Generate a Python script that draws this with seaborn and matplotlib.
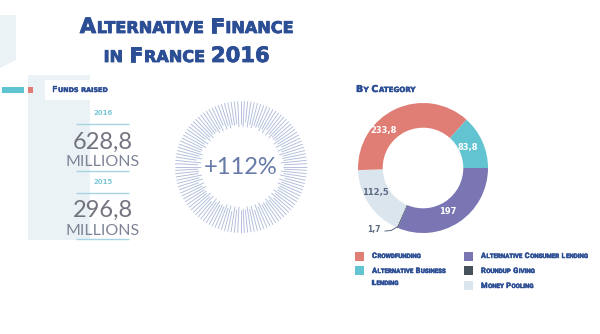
import numpy as np
import matplotlib
matplotlib.use("Agg")
import matplotlib.pyplot as plt
import matplotlib.patheffects as pe
import seaborn as sns
from matplotlib.collections import LineCollection
from matplotlib.patches import Rectangle, Polygon

# ---------------- data ----------------
categories = ["Alternative Consumer Lending", "Roundup Giving", "Money Pooling",
              "Crowdfunding", "Alternative Business Lending"]
values = [197, 1.7, 112.5, 233.8, 83.8]
years = ["2016", "2015"]
funds = ["628,8", "296,8"]
growth_label = "+112%"
legend_order = ["Crowdfunding", "Alternative Consumer Lending",
                "Alternative Business Lending", "Roundup Giving", "Money Pooling"]

sns.set_theme(style="white")
plt.rcParams["font.family"] = ["DejaVu Sans"]

palette = {
    "Crowdfunding": "#E07E76",
    "Alternative Business Lending": "#62C4D1",
    "Alternative Consumer Lending": "#7A76B4",
    "Roundup Giving": "#47515A",
    "Money Pooling": "#DBE5ED",
}
NAVY = "#2C4E94"
LIGHT = "#EAF2F5"

fig = plt.figure(figsize=(6, 3.34), dpi=100)
ax = fig.add_axes([0, 0, 1, 1])
ax.set_xlim(0, 600)
ax.set_ylim(334, 0)
ax.axis("off")
renderer = fig.canvas.get_renderer()


def smallcaps(x, y, s, big, small, ha="left", color=NAVY, weight="bold",
              family=("DejaVu Sans",), stroke=0.0):
    groups = []
    for ch in s:
        if ch == " ":
            groups.append((" ", None))
            continue
        size = big if (ch.isupper() or ch.isdigit()) else small
        if groups and groups[-1][1] == size:
            groups[-1] = (groups[-1][0] + ch.upper(), size)
        else:
            groups.append((ch.upper(), size))
    texts = []
    widths = []
    for g, size in groups:
        if size is None:
            texts.append(None)
            widths.append(small * 100 / 72 * 0.32)
            continue
        t = ax.text(0, y, g, fontsize=size, color=color, fontweight=weight,
                    family=list(family), va="baseline", ha="left")
        if stroke > 0:
            t.set_path_effects([pe.withStroke(linewidth=stroke, foreground=color)])
        w = t.get_window_extent(renderer).width
        texts.append(t)
        widths.append(w + 0.3 + stroke * 0.5)
    total = sum(widths)
    cx = x - total / 2 if ha == "center" else x
    for t, w in zip(texts, widths):
        if t is not None:
            t.set_x(cx)
        cx += w


# ---------------- background decorations ----------------
ax.add_patch(Polygon([(0, 15), (16, 15), (16, 60), (0, 68)], closed=True,
                     facecolor=LIGHT, edgecolor="none"))
ax.add_patch(Rectangle((28, 75), 62, 165, facecolor=LIGHT, edgecolor="none"))
ax.add_patch(Rectangle((45, 80), 75, 20, facecolor="white", edgecolor="none"))
ax.add_patch(Rectangle((2, 87), 22, 6, facecolor="#5EC4D2", edgecolor="none"))
ax.add_patch(Rectangle((28, 87), 5, 6, facecolor="#E07A72", edgecolor="none"))

# ---------------- title ----------------
smallcaps(187, 33, "Alternative Finance", 15.2, 11.6, ha="center", stroke=0.6)
smallcaps(187, 62, "in France 2016", 15.2, 11.6, ha="center", stroke=0.6)

# ---------------- funds raised panel ----------------
smallcaps(52, 92, "Funds raised", 6, 4.6, stroke=0.3)
year_y = [115, 184]
num_y = [149, 217]
mil_y = [166, 235]
line_y = [(124, 171), (193, 239)]
for yr, fv, yy, ny, my, (l1, l2) in zip(years, funds, year_y, num_y, mil_y, line_y):
    ax.text(103, yy, yr, fontsize=5, fontweight="bold", color="#7CC7D8",
            ha="center", va="baseline")
    ax.plot([76, 129], [l1, l1], color="#A6D4E2", lw=1.0, solid_capstyle="butt")
    ax.plot([76, 129], [l2, l2], color="#A6D4E2", lw=1.0, solid_capstyle="butt")
    ax.text(103, ny, fv, fontsize=17, fontweight="normal", family=["Lato", "DejaVu Sans"],
            color="#73737F", ha="center", va="baseline")
    ax.text(103, my, "MILLIONS", fontsize=11.5, fontweight="normal",
            family=["Lato", "DejaVu Sans"], color="#7E8496", ha="center", va="baseline")

# ---------------- starburst ----------------
cx, cy = 241, 167
n = 124
ang = np.linspace(0, 2 * np.pi, n, endpoint=False)
k = np.arange(n)
r_out = 66
r_in = 40 + 3 * (k % 2) + 2 * ((k % 5) == 0)
segs = np.stack([
    np.stack([cx + r_in * np.cos(ang), cy + r_in * np.sin(ang)], axis=1),
    np.stack([cx + r_out * np.cos(ang), cy + r_out * np.sin(ang)], axis=1)], axis=1)
ax.add_collection(LineCollection(segs, colors="#AFBCDB", linewidths=0.65))
ax.text(cx, 174, growth_label, fontsize=17, fontweight="normal",
        family=["Lato", "DejaVu Sans"], color="#6679A8", ha="center", va="baseline")

# ---------------- donut ----------------
smallcaps(356, 92, "By Category", 6.8, 5.1, stroke=0.3)
dcx, dcy, R = 423, 168, 65
ax2 = fig.add_axes([(dcx - R) / 600, (334 - dcy - R) / 334, 2 * R / 600, 2 * R / 334])
wedges, _ = ax2.pie(values, colors=[palette[c] for c in categories], startangle=0,
                    counterclock=False, radius=1,
                    wedgeprops=dict(width=0.38, edgecolor="none"))
ax2.set_xlim(-1, 1)
ax2.set_ylim(-1, 1)
ax2.set_aspect("equal")
ax2.axis("off")

label_shift = [-4, 0, -7, 21, 1]
label_r = [0.77, 0, 0.83, 0.84, 0.76]
label_col = ["white", None, "#5A6A82", "white", "white"]
for w, v, sh, rr, col in zip(wedges, values, label_shift, label_r, label_col):
    txt = f"{v:g}".replace(".", ",")
    mid = np.deg2rad((w.theta1 + w.theta2) / 2 + sh)
    if col is None:
        ex, ey = np.cos(mid), np.sin(mid)
        ax2.plot([ex * 0.98, ex * 0.98 - 0.1, ex * 0.98 - 0.2],
                 [ey * 0.98, ey * 0.98 - 0.06, ey * 0.98 - 0.07],
                 color="#5A6A82", lw=0.7)
        ax2.text(ex * 0.98 - 0.27, ey * 0.98 - 0.05, txt, fontsize=5.5,
                 fontweight="bold", color="#5A6A82", ha="right", va="center")
    else:
        ax2.text(rr * np.cos(mid), rr * np.sin(mid), txt, fontsize=6, fontweight="bold",
                 color=col, ha="center", va="center")

# ---------------- legend ----------------
leg_pos = {
    "Crowdfunding": (355, 252, 258, ["Crowdfunding"]),
    "Alternative Business Lending": (355, 266, 273, ["Alternative Business", "Lending"]),
    "Alternative Consumer Lending": (464, 252, 258, ["Alternative Consumer Lending"]),
    "Roundup Giving": (464, 266, 273, ["Roundup Giving"]),
    "Money Pooling": (464, 281, 288, ["Money Pooling"]),
}
for cat in legend_order:
    x0, sy, by, lines = leg_pos[cat]
    ax.add_patch(Rectangle((x0, sy), 8.5, 8.5, facecolor=palette[cat], edgecolor="none"))
    for i, ln in enumerate(lines):
        smallcaps(x0 + 17, by + i * 12, ln, 5.4, 4.4,
                  family=("Roboto", "DejaVu Sans"), stroke=0.35)

fig.savefig("out.png", dpi=100)
